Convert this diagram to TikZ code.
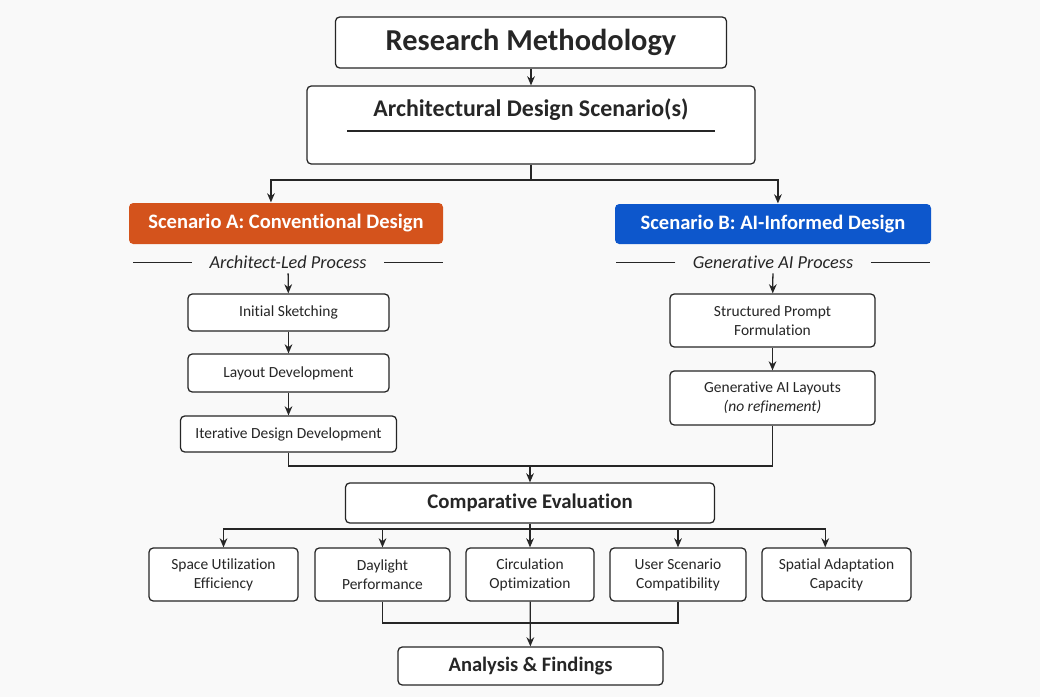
\documentclass[tikz,border=0pt]{standalone}
\usepackage{fontspec}
\setmainfont{Carlito}[Ligatures=NoCommon]
\usetikzlibrary{arrows.meta}
\definecolor{convorange}{HTML}{D4531C}
\definecolor{genblue}{HTML}{0D57CC}
\definecolor{ink}{HTML}{262626}
\definecolor{paper}{HTML}{F9F9F9}

\tikzset{
  sz/.style 2 args = {minimum width=#1*0.025cm, minimum height=#2*0.025cm},
  box/.style = {shape=rectangle, draw=ink, line width=0.9pt, rounded corners=3pt,
    fill=white, inner sep=0pt, align=center, text=ink},
  tag/.style = {box, draw=none, text=white, font=\bfseries\fontsize{14.6}{17}\selectfont},
  link/.style = {draw=ink, line width=0.9pt},
  arr/.style = {link, -{Stealth[length=6.5pt, width=5.5pt]}},
  small/.style = {font=\fontsize{11}{13.5}\selectfont},
}

\begin{document}
\begin{tikzpicture}[x=0.025cm, y=-0.025cm]
    \useasboundingbox [fill=paper] (0, 0) rectangle (1040, 697);

    \node (method) [box, sz={391}{51}, font=\bfseries\fontsize{21.6}{24}\selectfont] at (531, 42.5) {Research Methodology};

    \node (design) [box, sz={448}{78}] at (531, 125) {};
    \node (designtitle) [text=ink, font=\bfseries\fontsize{17}{20}\selectfont] at (531, 110) {Architectural Design Scenario(s)};
    \draw [link] (347, 131) -- (715, 131);

    \draw [arr] (method) -- (design);

    % the two scenarios
    \node (conv) [tag, fill=convorange, sz={314}{41}] at (286, 223.5) {Scenario A: Conventional Design};
    \node (gen) [tag, fill=genblue, sz={316}{40}] at (773, 224) {Scenario B: AI-Informed Design};

    \coordinate (split) at (531, 180);
    \draw [link] (design.south) -- (split);
    \draw [arr] (split) -| ([xshift=-10.7pt]conv.north);
    \draw [arr] (split) -| ([xshift=3.5pt]gen.north);

    \node (convproc) [text=ink, font=\itshape\fontsize{13}{15}\selectfont] at (288, 262) {Architect-Led Process};
    \node (genproc) [text=ink, font=\itshape\fontsize{13}{15}\selectfont] at (773, 262) {Generative AI Process};
    \draw [link, line width=0.7pt] ([xshift=-9pt]convproc.west) -- ++(-59, 0);
    \draw [link, line width=0.7pt] ([xshift=9pt]convproc.east) -- ++(59, 0);
    \draw [link, line width=0.7pt] ([xshift=-9pt]genproc.west) -- ++(-59, 0);
    \draw [link, line width=0.7pt] ([xshift=9pt]genproc.east) -- ++(59, 0);

    % scenario A steps
    \node (sketch) [box, small, sz={201}{37}] at (288.5, 312.5) {Initial Sketching};
    \node (layout) [box, small, sz={201}{38}] at (288.5, 373) {Layout Development};
    \node (iterate) [box, small, sz={216}{36}] at (288.5, 434) {Iterative Design Development};
    \draw [arr] (convproc) -- (sketch);
    \draw [arr] (sketch) -- (layout);
    \draw [arr] (layout) -- (iterate);

    % scenario B steps
    \node (prompt) [box, small, sz={205}{53}] at (772.5, 320.5) {Structured Prompt\\Formulation};
    \node (genlayout) [box, small, sz={205}{54}] at (772.5, 398) {Generative AI Layouts\\\textit{(no refinement)}};
    \draw [arr] (genproc) -- (prompt);
    \draw [arr] (prompt) -- (genlayout);

    \node (compare) [box, sz={369}{40}, font=\bfseries\fontsize{14.8}{17}\selectfont] at (530, 503) {Comparative Evaluation};

    \coordinate (join) at (530, 466);
    \draw [link] (iterate.south) |- (join);
    \draw [link] (genlayout.south) |- (join);
    \draw [arr] (join) -- (compare);

    % evaluation criteria
    \node (space) [box, small, sz={149}{53}] at (223.5, 574.5) {Space Utilization\\Efficiency};
    \node (daylight) [box, small, sz={135}{53}] at (382.5, 574.5) {Daylight\\Performance};
    \node (circ) [box, small, sz={128}{53}] at (530, 574.5) {Circulation\\Optimization};
    \node (user) [box, small, sz={136}{53}] at (678, 574.5) {User Scenario\\Compatibility};
    \node (adapt) [box, small, sz={149}{53}] at (836.5, 574.5) {Spatial Adaptation\\Capacity};

    \coordinate (fan) at (530, 529);
    \draw [link] (compare.south) -- (fan);
    \foreach \crit in {space, daylight, circ, user}
      \draw [arr] (fan) -| (\crit.north);
    \draw [arr] (fan) -| ([xshift=-8pt]adapt.north);

    \node (findings) [box, sz={265}{38}, font=\bfseries\fontsize{14.6}{17}\selectfont] at (530.5, 666) {Analysis \& Findings};

    \coordinate (gather) at (530, 623);
    \draw [link] (daylight.south) |- (gather);
    \draw [link] (user.south) |- (gather);
    \draw [arr] (circ) -- (findings);
  \end{tikzpicture}
\end{document}
